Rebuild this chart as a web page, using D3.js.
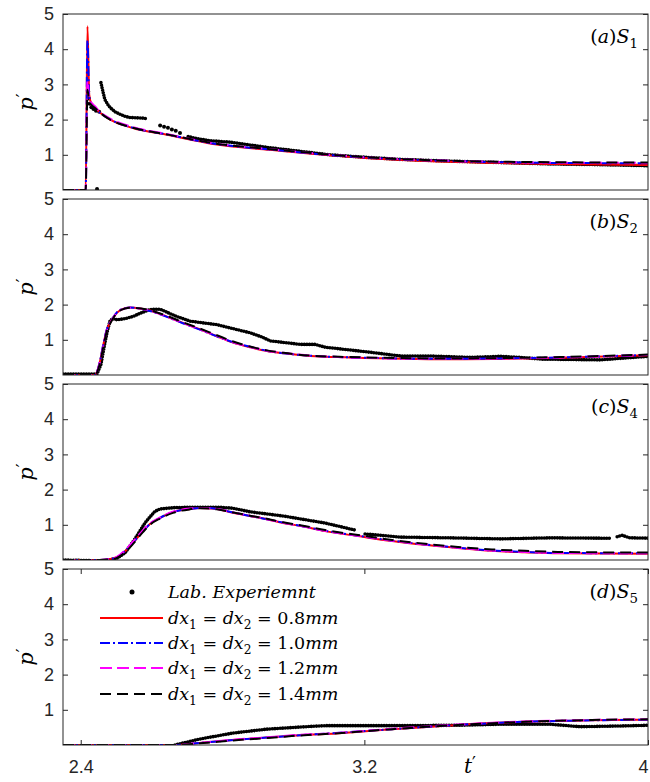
<!DOCTYPE html>
<html>
<head>
<meta charset="utf-8">
<script src="https://cdn.jsdelivr.net/npm/d3@7"></script>
<style>
  body { margin: 0; background: #fff; }
  svg { display: block; }
</style>
</head>
<body>
<div id="graf"></div>
<script>
//// DATOS
// S1
t_s1 = [2.35, 2.414, 2.419, 2.424, 2.43, 2.44, 2.454, 2.483, 2.547, 2.643, 2.773, 2.934, 3.202, 3.442, 3.724, 4.0]
s1_dx08 = [0, 0, 4.65, 2.7, 2.45, 2.35, 2.2, 2.0, 1.76, 1.57, 1.31, 1.14, 0.91, 0.8, 0.74, 0.71]
s1_dx10 = [0, 0, 4.25, 2.65, 2.45, 2.34, 2.2, 2.01, 1.77, 1.58, 1.32, 1.15, 0.92, 0.82, 0.77, 0.76]
s1_dx12 = [0, 0, 3.1, 2.55, 2.48, 2.38, 2.22, 2.03, 1.79, 1.59, 1.33, 1.16, 0.93, 0.83, 0.78, 0.77]
s1_dx14 = [0, 0, 2.85, 2.5, 2.42, 2.33, 2.2, 2.0, 1.77, 1.58, 1.33, 1.16, 0.93, 0.83, 0.79, 0.78]
t_exp_s1 = [2.457, 2.463, 2.468, 2.477, 2.483, 2.497, 2.511, 2.525, 2.539, 2.559, 2.581, 2.587, 2.6, 2.703, 2.722, 2.765, 2.821, 2.877, 2.934, 3.019, 3.103, 3.202, 3.301, 3.442, 3.583, 3.724, 3.865, 4.0]
p_exp_s1 = [3.05, 2.78, 2.57, 2.42, 2.34, 2.22, 2.15, 2.09, 2.06, 2.05, 2.04, 2.0, null, 1.52, 1.47, 1.4, 1.36, 1.28, 1.2, 1.1, 1.0, 0.93, 0.87, 0.82, 0.78, 0.74, 0.72, 0.69]
t_pts_s1 = [2.421, 2.423, 2.425, 2.43, 2.436, 2.443, 2.446, 2.452, 2.624, 2.635, 2.646, 2.657, 2.668, 2.68]
p_pts_s1 = [2.8, 2.6, 2.45, 2.35, 2.3, 2.25, 0.03, 2.22, 1.83, 1.8, 1.77, 1.72, 1.68, 1.62]

// S2
t_s2 = [2.35, 2.44, 2.454, 2.463, 2.474, 2.485, 2.502, 2.525, 2.539, 2.595, 2.643, 2.688, 2.736, 2.784, 2.83, 2.877, 2.925, 2.971, 3.047, 3.16, 3.442, 3.752, 4.0]
s2_dx08 = [0, 0, 0.37, 0.82, 1.3, 1.52, 1.77, 1.9, 1.92, 1.83, 1.66, 1.48, 1.3, 1.1, 0.92, 0.79, 0.68, 0.62, 0.54, 0.5, 0.45, 0.49, 0.56]
s2_dx10 = [0, 0, 0.38, 0.84, 1.31, 1.53, 1.78, 1.9, 1.92, 1.82, 1.65, 1.47, 1.29, 1.1, 0.93, 0.8, 0.69, 0.62, 0.55, 0.5, 0.46, 0.5, 0.57]
s2_dx12 = [0, 0, 0.36, 0.8, 1.29, 1.52, 1.77, 1.89, 1.91, 1.83, 1.66, 1.48, 1.3, 1.11, 0.93, 0.8, 0.69, 0.63, 0.55, 0.5, 0.46, 0.5, 0.57]
s2_dx14 = [0, 0, 0.33, 0.76, 1.26, 1.5, 1.76, 1.89, 1.91, 1.84, 1.68, 1.5, 1.32, 1.13, 0.95, 0.81, 0.7, 0.63, 0.55, 0.51, 0.47, 0.51, 0.58]
t_exp_s2 = [2.35, 2.446, 2.457, 2.466, 2.474, 2.483, 2.491, 2.502, 2.525, 2.547, 2.567, 2.595, 2.624, 2.666, 2.708, 2.784, 2.877, 2.911, 2.934, 3.019, 3.061, 3.089, 3.222, 3.301, 3.385, 3.498, 3.583, 3.639, 3.701, 3.865, 4.0]
p_exp_s2 = [0.03, 0.03, 0.3, 0.8, 1.2, 1.55, 1.6, 1.57, 1.6, 1.66, 1.75, 1.86, 1.87, 1.68, 1.53, 1.43, 1.2, 1.08, 0.97, 0.87, 0.87, 0.79, 0.64, 0.54, 0.54, 0.5, 0.53, 0.5, 0.45, 0.43, 0.53]

// S4
t_s3 = [2.35, 2.454, 2.483, 2.502, 2.525, 2.547, 2.576, 2.595, 2.624, 2.66, 2.708, 2.736, 2.784, 2.83, 2.877, 2.925, 2.971, 3.019, 3.089, 3.182, 3.278, 3.371, 3.464, 3.56, 3.653, 3.746, 4.0]
s3_dx08 = [0, 0, 0.03, 0.08, 0.25, 0.48, 0.82, 1.02, 1.2, 1.36, 1.45, 1.48, 1.45, 1.34, 1.25, 1.16, 1.05, 0.97, 0.82, 0.68, 0.54, 0.43, 0.34, 0.26, 0.22, 0.19, 0.18]
s3_dx10 = [0, 0, 0.03, 0.08, 0.26, 0.49, 0.82, 1.02, 1.2, 1.36, 1.45, 1.48, 1.45, 1.35, 1.25, 1.16, 1.06, 0.97, 0.83, 0.69, 0.55, 0.44, 0.35, 0.27, 0.23, 0.2, 0.19]
s3_dx12 = [0, 0, 0.03, 0.09, 0.28, 0.52, 0.85, 1.04, 1.21, 1.37, 1.46, 1.48, 1.45, 1.35, 1.26, 1.16, 1.06, 0.97, 0.83, 0.69, 0.55, 0.44, 0.35, 0.27, 0.23, 0.2, 0.19]
s3_dx14 = [0, 0, 0.02, 0.06, 0.22, 0.45, 0.8, 1.0, 1.18, 1.34, 1.44, 1.47, 1.44, 1.35, 1.26, 1.17, 1.07, 0.99, 0.85, 0.71, 0.57, 0.46, 0.37, 0.3, 0.26, 0.23, 0.21]
t_exp_s3 = [2.35, 2.468, 2.502, 2.525, 2.553, 2.581, 2.595, 2.609, 2.624, 2.666, 2.736, 2.793, 2.83, 2.877, 2.971, 3.089, 3.174, 3.18, 3.202, 3.301, 3.442, 3.583, 3.724, 3.865, 3.893, 3.9, 3.913, 3.927, 3.949, 4.0]
p_exp_s3 = [0, -0.03, 0.05, 0.2, 0.6, 1.05, 1.22, 1.38, 1.45, 1.49, 1.5, 1.5, 1.47, 1.37, 1.25, 1.05, 0.85, null, 0.74, 0.65, 0.63, 0.6, 0.63, 0.62, 0.62, null, 0.66, 0.7, 0.63, 0.62]

// S5
t_s4 = [2.35, 2.666, 2.736, 2.83, 2.925, 3.019, 3.089, 3.278, 3.464, 3.653, 3.842, 4.0]
s4_dx08 = [0, 0, 0.06, 0.14, 0.21, 0.28, 0.31, 0.45, 0.57, 0.66, 0.7, 0.72]
s4_dx10 = [0, 0, 0.06, 0.14, 0.21, 0.28, 0.32, 0.45, 0.57, 0.66, 0.7, 0.72]
s4_dx12 = [0, 0, 0.06, 0.15, 0.22, 0.29, 0.32, 0.46, 0.58, 0.67, 0.71, 0.73]
s4_dx14 = [0, 0, 0.05, 0.13, 0.2, 0.27, 0.31, 0.45, 0.57, 0.66, 0.71, 0.73]
t_exp_s4 = [2.666, 2.736, 2.83, 2.925, 3.019, 3.089, 3.278, 3.464, 3.583, 3.724, 3.808, 3.921, 4.0]
p_exp_s4 = [0, 0.17, 0.34, 0.45, 0.51, 0.55, 0.55, 0.56, 0.59, 0.59, 0.52, 0.54, 0.56]

// ETIQUETAS Y TICKS
panelLetters = ['a', 'b', 'c', 'd']
panelSensors = ['1', '2', '4', '5']
yTicks = [1, 2, 3, 4, 5]
xTicks = [2.4, 3.2, 4]
xTickLabels = ['2.4', '3.2', '4']
legendSizes = ['0.8', '1.0', '1.2', '1.4']

////ESTILOS
serif = '"DejaVu Serif", "Liberation Serif", serif'
sans = '"Liberation Sans", Arial, sans-serif'
axisColor = '#262626'
simStyles = [
  { color: '#ff0000', dash: null },
  { color: '#0000ff', dash: '10,3,2,3' },
  { color: '#ff00ff', dash: '12,5' },
  { color: '#000000', dash: '11,6' }
]

////ESPACIO
ancho_total = 650
alto_total = 782
left = 63, right = 648
panelTops = [14, 199, 384, 569]
panelH = 176

svg = d3.select('#graf').append('svg')
  .attr('width', ancho_total)
  .attr('height', alto_total)

x = d3.scaleLinear().domain([2.35, 4.0]).range([left, right])
y = d3.scaleLinear().domain([0, 5]).range([panelH, 0])

simLine = d3.line()
  .defined(d => d[1] !== null)
  .x(d => x(d[0]))
  .y(d => y(d[1]))
  .curve(d3.curveMonotoneX)

expLine = d3.line()
  .defined(d => d[1] !== null)
  .x(d => x(d[0]))
  .y(d => y(d[1]))

zip = (t, p) => t.map((v, i) => [v, p[i]])

panels = [
  { sims: [s1_dx08, s1_dx10, s1_dx12, s1_dx14], t: t_s1, et: t_exp_s1, ep: p_exp_s1, pt: t_pts_s1, pp: p_pts_s1 },
  { sims: [s2_dx08, s2_dx10, s2_dx12, s2_dx14], t: t_s2, et: t_exp_s2, ep: p_exp_s2 },
  { sims: [s3_dx08, s3_dx10, s3_dx12, s3_dx14], t: t_s3, et: t_exp_s3, ep: p_exp_s3 },
  { sims: [s4_dx08, s4_dx10, s4_dx12, s4_dx14], t: t_s4, et: t_exp_s4, ep: p_exp_s4 }
]

// texto con subíndices y primas (estilo LaTeX)
function mathText(sel, parts, size) {
  parts.forEach(p => {
    ts = sel.append('tspan').text(p[0])
    if (p[1] === 'i') ts.attr('font-style', 'italic')
    if (p[1] === 'sub') {
      ts.attr('font-size', size * 0.7).attr('dy', size * 0.28)
    }
    if (p[1] === 'unsub') ts.attr('dy', -size * 0.28)
    if (p[1] === 'prime') {
      ts.attr('font-style', 'normal').attr('font-family', '"DejaVu Sans", sans-serif')
        .attr('font-size', size * 0.85).attr('dy', -size * 0.2)
    }
  })
}

panels.forEach((pan, k) => {
  g = svg.append('g').attr('transform', `translate(0, ${panelTops[k]})`)

  g.append('clipPath').attr('id', 'clip' + k)
    .append('rect').attr('x', left).attr('y', 0).attr('width', right - left).attr('height', panelH)

  plot = g.append('g').attr('clip-path', `url(#clip${k})`)

  // experimento
  plot.append('path')
    .attr('d', expLine(zip(pan.et, pan.ep)))
    .attr('fill', 'none')
    .attr('stroke', '#000')
    .attr('stroke-width', 3.6)
    .attr('stroke-linecap', 'round')
    .attr('stroke-dasharray', '0,2.6')
  if (pan.pt) {
    plot.selectAll('circle.pt').data(zip(pan.pt, pan.pp)).join('circle')
      .attr('class', 'pt')
      .attr('cx', d => x(d[0])).attr('cy', d => y(d[1])).attr('r', 2)
      .attr('fill', '#000')
  }

  // simulaciones
  pan.sims.forEach((s, j) => {
    plot.append('path')
      .attr('d', simLine(zip(pan.t, s)))
      .attr('fill', 'none')
      .attr('stroke', simStyles[j].color)
      .attr('stroke-width', 2)
      .attr('stroke-dasharray', simStyles[j].dash)
  })

  // ejes
  g.append('g').attr('transform', `translate(${left},0)`)
    .call(d3.axisLeft(y).tickValues(yTicks).tickSize(-5).tickPadding(9).tickFormat(d3.format('d')))
  g.append('g').attr('transform', `translate(${right},0)`)
    .call(d3.axisRight(y).tickValues(yTicks).tickSize(-5).tickFormat(''))
  if (k === 3) {
    xb = g.append('g').attr('transform', `translate(0,${panelH})`)
      .call(d3.axisBottom(x).tickValues(xTicks).tickSize(-5).tickPadding(15)
        .tickFormat((d, i) => xTickLabels[i]))
    // el "4" queda pegado al borde derecho
    xb.selectAll('.tick text').filter((d, i) => i === 2).attr('text-anchor', 'end').attr('dx', 0)
    g.append('g')
      .call(d3.axisTop(x).tickValues(xTicks).tickSize(-5).tickFormat(''))
  }
  g.selectAll('.domain').remove()
  g.selectAll('.tick line').attr('stroke', axisColor)
  g.selectAll('.tick text').attr('font-family', sans).attr('font-size', 18).attr('fill', axisColor)

  g.append('rect')
    .attr('x', left).attr('y', 0).attr('width', right - left).attr('height', panelH)
    .attr('fill', 'none').attr('stroke', axisColor).attr('stroke-width', 1)

  // etiqueta eje y
  yl = g.append('text')
    .attr('transform', `translate(33, ${panelH / 2}) rotate(-90)`)
    .attr('text-anchor', 'middle')
    .attr('font-family', serif).attr('font-size', 21)
  mathText(yl, [['p', 'i'], ['\u2032', 'prime']], 21)

  // etiqueta del panel
  lab = g.append('text')
    .attr('x', 638).attr('y', 29)
    .attr('text-anchor', 'end')
    .attr('font-family', serif).attr('font-size', 19).attr('fill', '#000')
  mathText(lab, [['(', 'n'], [panelLetters[k], 'i'], [')', 'n'], ['S', 'i'], [panelSensors[k], 'sub']], 19)
})

// etiqueta eje x
xl = svg.append('text')
  .attr('x', 470).attr('y', 773)
  .attr('text-anchor', 'middle')
  .attr('font-family', serif).attr('font-size', 20)
mathText(xl, [['t', 'i'], ['\u2032', 'prime']], 20)

////LEYENDA
leg = svg.append('g').attr('transform', `translate(0, ${panelTops[3]})`)
rowY = [23, 49, 74, 99, 125]
leg.append('circle').attr('cx', 132).attr('cy', rowY[0]).attr('r', 2.5).attr('fill', '#000')
leg.append('text').attr('x', 168).attr('y', rowY[0] + 6)
  .attr('font-family', serif).attr('font-size', 17.5).attr('font-style', 'italic')
  .text('Lab. Experiemnt')
legendSizes.forEach((s, j) => {
  yy = rowY[j + 1]
  leg.append('line')
    .attr('x1', 100).attr('x2', 163).attr('y1', yy).attr('y2', yy)
    .attr('stroke', simStyles[j].color).attr('stroke-width', 2)
    .attr('stroke-dasharray', simStyles[j].dash)
  tt = leg.append('text').attr('x', 168).attr('y', yy + 6)
    .attr('font-family', serif).attr('font-size', 17.5)
  mathText(tt, [['dx', 'i'], ['1', 'sub'], [' = ', 'unsub'], ['dx', 'i'], ['2', 'sub'], [' = ', 'unsub'], [s, 'n'], ['mm', 'i']], 17.5)
})
</script>
</body>
</html>
